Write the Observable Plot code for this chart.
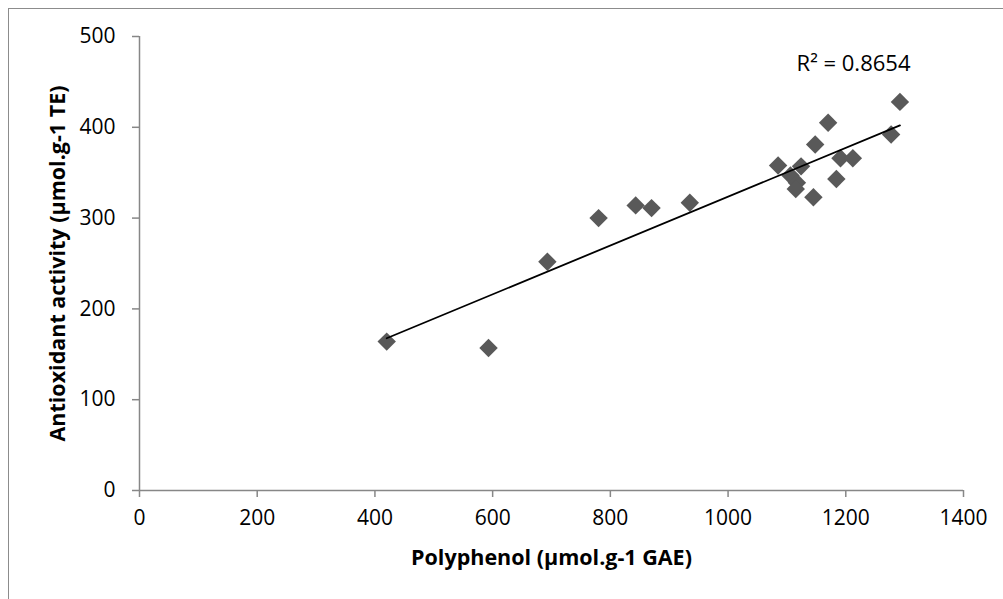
<!DOCTYPE html>
<html>
<head>
<meta charset="utf-8">
<script src="https://cdn.jsdelivr.net/npm/d3@7"></script>
<script src="https://cdn.jsdelivr.net/npm/@observablehq/plot@0.6"></script>
<style>
  html, body { margin: 0; padding: 0; background: #fff; }
  #wrap { position: relative; width: 1003px; height: 599px; overflow: hidden; }
  #frame { position: absolute; left: 8px; top: 8px; width: 1100px; height: 700px;
           border-top: 1.5px solid #8c8c8c; border-left: 1.5px solid #8c8c8c; pointer-events: none; }
  #chart svg { display: block; }
  g[aria-label="x-axis label"] text, g[aria-label="y-axis label"] text { font-weight: bold; font-size: 21.5px; }
</style>
</head>
<body>
<div id="wrap"><div id="chart"></div><div id="frame"></div></div>
<script>
// Data
const polyphenol = [420, 593, 693, 780, 843, 870, 935, 1085, 1106, 1117, 1115, 1124, 1145, 1148, 1170, 1184, 1191, 1212, 1277, 1292];
const antioxidant = [164, 157, 252, 300, 314, 311, 317, 358, 347, 339, 332, 357, 323, 381, 405, 343, 366, 366, 392, 428];
const xTicks = [0, 200, 400, 600, 800, 1000, 1200, 1400];
const yTicks = [0, 100, 200, 300, 400, 500];
const xLabel = "Polyphenol (µmol.g-1 GAE)";
const yLabel = "Antioxidant activity (µmol.g-1 TE)";
const r2Label = "R² = 0.8654";

const data = polyphenol.map((x, i) => ({x, y: antioxidant[i]}));
const axisGray = "#878787";
const font = "Open Sans, Lato, sans-serif";

const chart = Plot.plot({
  width: 1003,
  height: 599,
  marginLeft: 139,
  marginRight: 40,
  marginTop: 36,
  marginBottom: 109,
  style: {fontFamily: font, fontSize: "21px", color: "#000", background: "transparent"},
  x: {domain: [0, 1400]},
  y: {domain: [0, 500]},
  marks: [
    Plot.ruleY([0], {stroke: axisGray, strokeWidth: 1.5}),
    Plot.ruleX([0], {stroke: axisGray, strokeWidth: 1.5}),
    Plot.axisX({ticks: xTicks, tickFormat: d => String(d), tickSize: 7, tickPadding: 13, stroke: axisGray, strokeWidth: 1.5, fill: "#000",
      label: xLabel, labelAnchor: "center", labelArrow: "none", labelOffset: 74, fontSize: 21}),
    Plot.axisY({ticks: yTicks, tickFormat: d => String(d), tickSize: 7, tickPadding: 17, stroke: axisGray, strokeWidth: 1.5, fill: "#000",
      label: yLabel, labelAnchor: "center", labelArrow: "none", labelOffset: 90, fontSize: 21}),
    Plot.dot(data, {x: "x", y: "y", symbol: "diamond2", r: 8.3, fill: "#595959", stroke: "none"}),
    Plot.linearRegressionY(data, {x: "x", y: "y", ci: 0, stroke: "#000", strokeWidth: 1.8}),
    Plot.text([r2Label], {frameAnchor: "top-right", dx: -110, dy: 27, lineAnchor: "middle", text: d => d, fontSize: 22, fill: "#000", textAnchor: "middle"})
  ]
});
document.getElementById("chart").appendChild(chart);
</script>
</body>
</html>
